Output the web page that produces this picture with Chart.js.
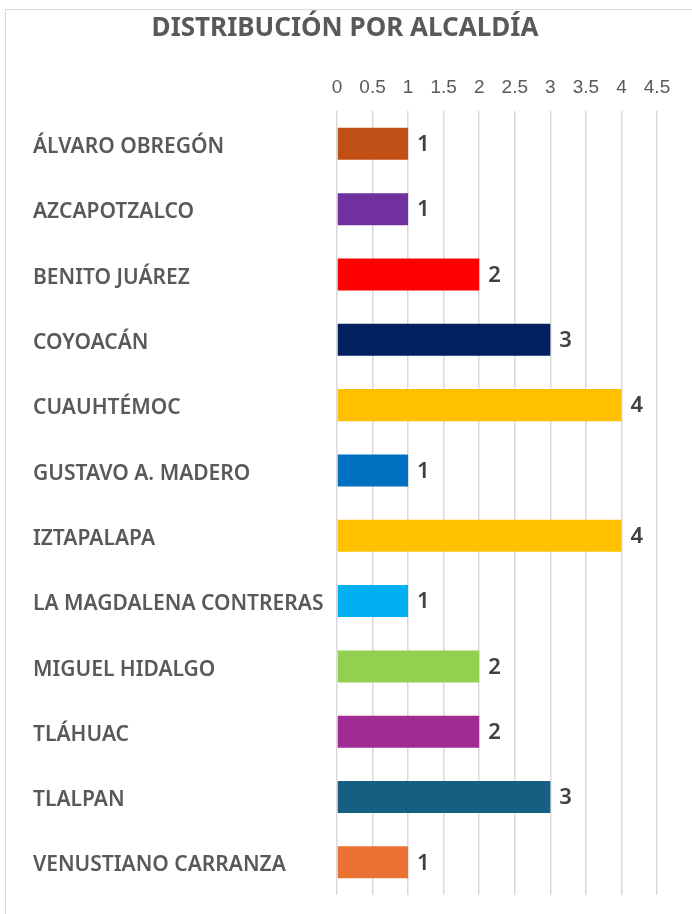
<!DOCTYPE html>
<html>
<head>
<meta charset="utf-8">
<script src="https://cdn.jsdelivr.net/npm/chart.js@4.4.1/dist/chart.umd.min.js"></script>
<style>
  html, body { margin: 0; padding: 0; background: #fff; overflow: hidden; }
  #frame { position: absolute; left: 5px; top: 9px; width: 720px; height: 940px;
           border-left: 1px solid #d9d9d9; border-top: 1px solid #d9d9d9; }
  #wrap { position: absolute; left: 0; top: 0; width: 692px; height: 914px; }
</style>
</head>
<body>
<div id="frame"></div>
<div id="wrap"><canvas id="myChart" width="692" height="914"></canvas></div>
<script>
const alcaldias = ['ÁLVARO OBREGÓN', 'AZCAPOTZALCO', 'BENITO JUÁREZ', 'COYOACÁN', 'CUAUHTÉMOC',
    'GUSTAVO A. MADERO', 'IZTAPALAPA', 'LA MAGDALENA CONTRERAS', 'MIGUEL HIDALGO', 'TLÁHUAC',
    'TLALPAN', 'VENUSTIANO CARRANZA'];
const casos = [1, 1, 2, 3, 4, 1, 4, 1, 2, 2, 3, 1];
const colores = ['#C04F15', '#7030A0', '#FF0000', '#002060', '#FFC000', '#0070C0',
    '#FFC000', '#00B0F0', '#92D050', '#A02B93', '#156082', '#E97132'];
const xMax = 4.5;
const xStep = 0.5;

// numbers at the end of each bar
const valueLabels = {
    id: 'valueLabels',
    afterDatasetsDraw(chart) {
        const c = chart.ctx;
        const meta = chart.getDatasetMeta(0);
        c.save();
        c.font = '600 22px "Noto Sans"';
        c.fillStyle = '#404040';
        c.textAlign = 'left';
        c.textBaseline = 'middle';
        meta.data.forEach(function(bar, i) {
            c.fillText(String(casos[i]), bar.x + 9, bar.y + 1);
        });
        c.restore();
    }
};

const ctx = document.getElementById('myChart').getContext('2d');
new Chart(ctx, {
    type: 'bar',
    data: {
        labels: alcaldias,
        datasets: [{
            data: casos,
            backgroundColor: colores,
            borderWidth: 0,
            barPercentage: 0.49,
            categoryPercentage: 1
        }]
    },
    plugins: [valueLabels],
    options: {
        indexAxis: 'y',
        responsive: false,
        animation: false,
        layout: {
            padding: { left: 33, right: 35, top: 0, bottom: 19 }
        },
        plugins: {
            legend: { display: false },
            tooltip: { enabled: false },
            title: {
                display: true,
                text: 'DISTRIBUCIÓN POR ALCALDÍA',
                color: '#595959',
                font: { family: '"Noto Sans"', size: 26, weight: 'bold' },
                padding: { top: 13, bottom: 25 }
            }
        },
        scales: {
            x: {
                position: 'top',
                min: 0,
                max: xMax,
                ticks: {
                    stepSize: xStep,
                    color: '#595959',
                    padding: 12,
                    font: { family: '"Liberation Sans"', size: 19 },
                    callback: function(v) { return String(v); }
                },
                grid: { color: '#d9d9d9', lineWidth: 1.5, drawTicks: false },
                border: { display: false },
                afterFit(scale) { scale.height = 42; }
            },
            y: {
                ticks: {
                    crossAlign: 'far',
                    color: '#595959',
                    font: { family: '"Noto Sans"', size: 21, weight: '600', lineHeight: 0.3 },
                    // empty first line nudges the name down to sit on the bar centre
                    callback: function(v) { return ['', alcaldias[v]]; }
                },
                grid: { display: false },
                border: { display: false },
                afterFit(scale) { scale.width = 304; }
            }
        }
    }
});
</script>
</body>
</html>
